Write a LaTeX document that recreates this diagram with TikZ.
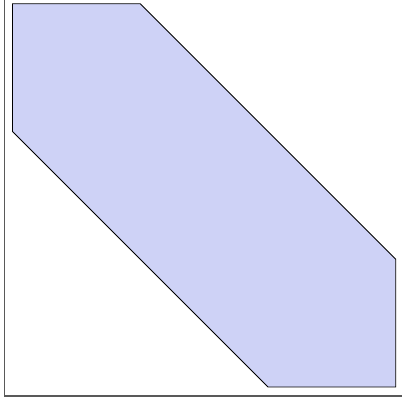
\documentclass[tikz,border=0pt]{standalone}
\usepackage{tikz}
\definecolor{regionfill}{RGB}{206,210,246}
\begin{document}
\begin{tikzpicture}
    \useasboundingbox (0,0) rectangle (10.05,10.1);

    % axis lines
    \draw[gray!70!black,line width=1pt] (0.1125,10.1) -- (0.1125,0.2) -- (10.05,0.2);

    % band |x-y| <= 2/3
    \begin{scope}[shift={(0.3125,0.425)},scale=9.58]
        \draw[fill=regionfill,line width=0.6pt] (0,1) -- (1/3,1) -- (1,1/3) -- (1,0) -- (2/3,0) -- (0,2/3) -- cycle;
    \end{scope}
\end{tikzpicture}
\end{document}
